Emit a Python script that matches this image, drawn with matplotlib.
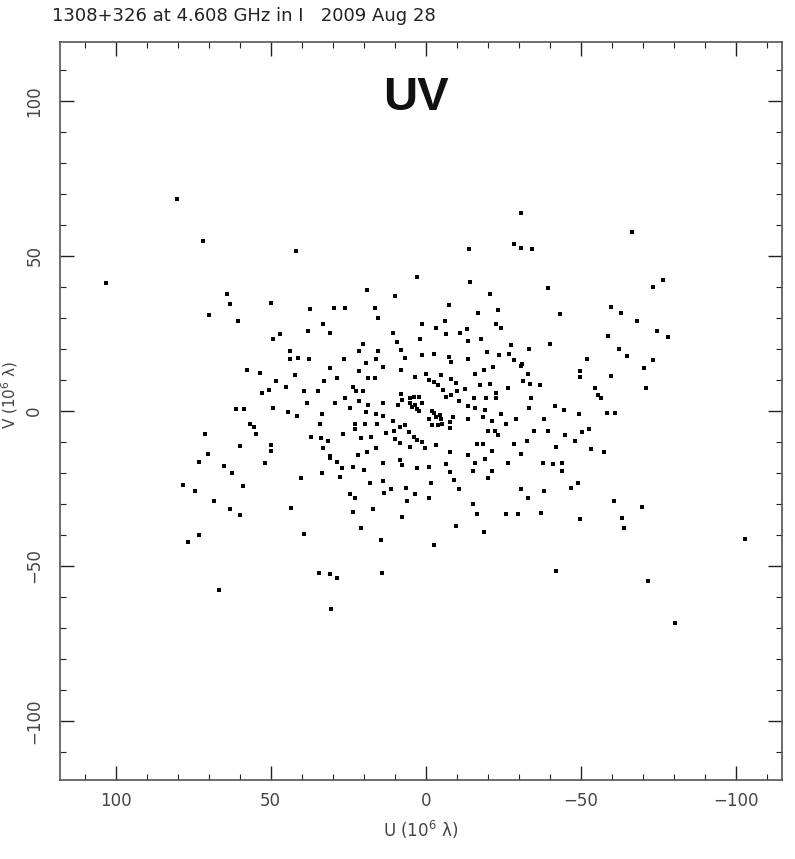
import numpy as np
import matplotlib
matplotlib.use("Agg")
import matplotlib.pyplot as plt
from matplotlib.ticker import MultipleLocator

# uv samples (u > 0 half), in units of 10^6 wavelengths
u_half = [80.3, 71.7, 103.1, 64.1, 63.3, 69.9, 60.7,
          61.1, 58.5, 71.1, 59.8, 70.3, 73.2, 65.1, 62.4, 78.3, 58.8, 74.6, 68.2, 63.0, 59.8, 73.3,
          76.7, 66.6,
          42.0, 2.8, 18.9, 9.8, 49.9, 37.2, 29.7, 25.9, 16.5, 15.4, 1.2, 33.0, 38.1, 30.8, 10.7, 1.8,
          49.3, 47.0, 9.1, 20.2, 21.4, 43.9, 15.4, 8.0, 1.2, 43.9, 41.2, 37.8, 26.5, 16.0, 6.6,
          19.2, 57.5, 53.4, 30.8, 21.4, 13.8, 8.0, 3.4, 48.2, 42.1, 28.6, 18.6, 16.5, 32.7, 45.0,
          23.3, 52.7, 50.6, 39.4, 34.9, 22.4, 20.1, 26.0, 38.3, 29.2, 21.4, 13.8,
          49.4, 24.4, 18.6, 44.5, 41.6, 33.4, 19.2, 16.0, 13.8, 10.6, 56.6, 55.5, 34.0, 22.7, 19.5,
          15.7, 22.7, 54.8, 26.7, 12.8, 10.2, 37.0, 33.8, 31.5, 20.8, 17.6, 33.0, 18.8, 16.0, 49.9,
          49.9, 30.8, 31.0, 21.7, 28.5, 52.0, 13.8, 23.5, 27.0, 19.8, 33.5, 40.2, 27.6, 17.9, 13.8,
          24.4, 22.7, 11.2, 13.4, 43.5, 23.3, 17.0, 20.8, 39.4,
          7.5, 6.4, 3.4, 6.1, 7.5, 2.8, 8.2,
          14.4, 34.3, 30.8, 28.5, 14.1, 30.6,
          8.0, 5.2, 3.9, 2.0, 5.0, 3.4, 1.2, 2.8, 2.0, 4.5, 7.7, 8.8, 8.2, 6.6, 5.5, 3.9, 2.8, 1.2,
          0.2, 5.0, 9.8, 8.2]
v_half = [68.4, 54.7, 41.2, 37.8, 34.6, 31.0, 29.1,
          0.5, 0.5, -7.5, -11.2, -14.0, -16.3, -17.6, -20.0, -23.9, -24.2, -25.8, -28.9, -31.6, -33.5, -40.0,
          -42.4, -57.8,
          51.7, 43.3, 39.0, 37.0, 34.8, 32.8, 33.3, 33.3, 33.3, 30.1, 28.2, 28.0, 25.9, 25.3, 25.3, 23.2,
          23.2, 24.8, 22.2, 21.6, 19.5, 19.5, 19.3, 19.7, 18.1, 16.9, 17.2, 16.7, 16.7, 16.9, 17.0,
          15.4, 13.2, 12.2, 13.8, 12.9, 14.3, 13.2, 11.1, 9.6, 11.6, 10.5, 10.5, 10.5, 9.6, 7.8,
          7.8, 5.9, 6.8, 6.5, 6.5, 6.5, 6.5, 4.1, 2.7, 2.7, 3.2, 2.7,
          0.9, 1.1, 1.9, -0.4, -1.5, -1.0, -0.4, -1.0, -1.5, -3.1, -4.3, -5.1, -4.2, -4.2, -4.2,
          -4.2, -5.8, -7.4, -7.4, -7.0, -6.5, -8.3, -8.8, -9.6, -8.8, -8.3, -11.8, -13.1, -12.0, -11.0,
          -12.9, -14.4, -15.3, -14.2, -16.3, -16.9, -16.9, -18.0, -18.5, -19.0, -20.1, -21.7, -21.2, -23.1, -22.6,
          -26.9, -28.0, -25.3, -26.3, -31.2, -32.7, -31.6, -37.8, -39.8,
          -17.4, -24.7, -26.9, -28.9, -34.3, -18.5, -10.4,
          -41.6, -52.2, -52.7, -53.8, -52.2, -64.0,
          5.5, 4.1, 4.6, 4.6, 2.5, 1.9, 2.5, 0.5, 0.1, 1.2, 3.5, 1.9, -5.1, -4.5, -6.7, -8.3, -9.4, -9.9,
          -12.0, -11.5, -9.1, -15.8]

# each baseline also gives the conjugate point (-u, -v)
u = np.concatenate([u_half, -np.array(u_half)])
v = np.concatenate([v_half, -np.array(v_half)])

title = "1308+326 at 4.608 GHz in I   2009 Aug 28"
tick_vals = [100, 50, 0, -50, -100]

fig = plt.figure(figsize=(7.95, 8.59), dpi=100)
ax = fig.add_axes([0.0755, 0.092, 0.9082, 0.8591])

ax.plot(u, v, linestyle="none", marker="s", markersize=2.6,
        markeredgewidth=0, color="black")

ax.set_xlim(118, -115)
ax.set_ylim(-119, 119)

ax.set_xticks(tick_vals)
ax.set_yticks(tick_vals)
ax.xaxis.set_minor_locator(MultipleLocator(10))
ax.yaxis.set_minor_locator(MultipleLocator(10))
ax.tick_params(which="both", direction="in", top=True, right=True, color="#222222")
ax.tick_params(which="major", length=10, width=1.0)
ax.tick_params(which="minor", length=4, width=0.8)
ax.tick_params(axis="x", labelsize=12, labelcolor="#444444", pad=9)
ax.tick_params(axis="y", labelsize=12, labelcolor="#444444", pad=12, labelrotation=90)
for lab in ax.get_yticklabels():
    lab.set_va("center")

for s in ax.spines.values():
    s.set_color("#555555")
    s.set_linewidth(1.2)

ax.set_xlabel("U (10$^6$ λ)", fontsize=12, color="#444444", labelpad=6)
fig.text(10 / 795, 1 - 395 / 859, "V (10$^6$ λ)", rotation=90, fontsize=11,
         color="#444444", ha="center", va="center")

fig.text(52 / 795, 1 - 21 / 859, title, fontsize=13, color="#222222", va="baseline")
ax.text(3.1, 101, "UV", fontsize=34, fontweight="bold", family="Liberation Sans",
        ha="center", va="center", color="#111111")

fig.savefig("out.png", dpi=100)
